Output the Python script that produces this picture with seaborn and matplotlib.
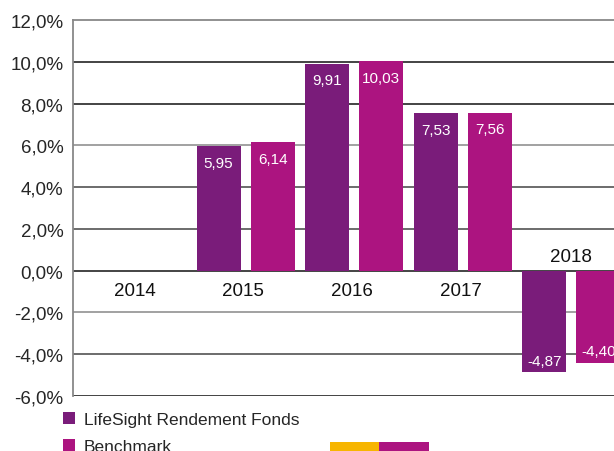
import pandas as pd
import seaborn as sns
import matplotlib.pyplot as plt
from matplotlib.patches import Rectangle

years = ['2014', '2015', '2016', '2017', '2018']
fund = [float('nan'), 5.95, 9.91, 7.53, -4.87]
bench = [float('nan'), 6.14, 10.03, 7.56, -4.40]
series_names = ['LifeSight Rendement Fonds', 'Benchmark']
y_ticks = [-6, -4, -2, 0, 2, 4, 6, 8, 10, 12]

purple = '#7a1c7a'
magenta = '#ac1480'

df = pd.DataFrame({
    'year': years * 2,
    'value': fund + bench,
    'series': [series_names[0]] * len(years) + [series_names[1]] * len(years),
})

sns.set_style('white')
plt.rcParams['font.family'] = ['Liberation Sans', 'DejaVu Sans']

fig = plt.figure(figsize=(6.14, 4.52), dpi=100)
ax = fig.add_axes([73 / 614, 55 / 452, (614 - 73) / 614, 376 / 452])

sns.barplot(data=df, x='year', y='value', hue='series', order=years,
            hue_order=series_names, palette=[purple, magenta],
            width=0.995, gap=0.186, saturation=1, linewidth=0, ax=ax, legend=True)

ax.set_xlim(-0.59, 4.394)
ax.set_ylim(-6, 12)
ax.set_yticks(y_ticks)
ax.set_yticklabels([f'{t:.1f}%'.replace('.', ',') for t in y_ticks], fontsize=13.5)
ax.tick_params(axis='y', length=0, pad=7)
ax.set_xticks([])
ax.set_xlabel('')
ax.set_ylabel('')

# horizontal grid lines
line_cols = {-6: '#111111', -4: '#444444', -2: '#888888', 0: '#111111', 2: '#444444',
             4: '#444444', 6: '#888888', 8: '#111111', 10: '#111111'}
for t, c in line_cols.items():
    ax.axhline(t, color=c, lw=1.1, zorder=0)

for side in ['right', 'bottom']:
    ax.spines[side].set_visible(False)
ax.spines['top'].set_color('#888888')
ax.spines['top'].set_linewidth(1.3)
ax.spines['left'].set_color('#888888')
ax.spines['left'].set_linewidth(1.3)

# value labels inside bars
for cont in ax.containers:
    for bar in cont:
        h = bar.get_height()
        if pd.isna(h):
            continue
        x = bar.get_x() + bar.get_width() / 2
        lab = f'{h:.2f}'.replace('.', ',')
        if h >= 0:
            ax.annotate(lab, (x, h), xytext=(0, -12), textcoords='offset points',
                        ha='center', va='center', color='white', fontsize=11)
        else:
            ax.annotate(lab, (x, h), xytext=(0, 8), textcoords='offset points',
                        ha='center', va='center', color='white', fontsize=11)

# year labels next to the zero line
for i, yr in enumerate(years):
    vals = [v for v in (fund[i], bench[i]) if not pd.isna(v)]
    if vals and min(vals) < 0:
        ax.annotate(yr, (i, 0), xytext=(0, 10), textcoords='offset points',
                    ha='center', va='center', fontsize=13.5, color='#111111')
    else:
        ax.annotate(yr, (i - 0.02, 0), xytext=(0, -14), textcoords='offset points',
                    ha='center', va='center', fontsize=13.5, color='#111111')

handles, labels = ax.get_legend_handles_labels()
ax.get_legend().remove()
fig.legend(handles, labels, loc='upper left', bbox_to_anchor=(56 / 614, 46 / 452),
           frameon=False, fontsize=12.5, handlelength=0.7, handleheight=0.7,
           handletextpad=0.5, labelspacing=0.7, borderaxespad=0)

# colour strip at the bottom
fig.add_artist(Rectangle((330 / 614, 0), 49 / 614, 9 / 452, transform=fig.transFigure,
                         color='#f7b500', lw=0))
fig.add_artist(Rectangle((379 / 614, 0), 50 / 614, 9 / 452, transform=fig.transFigure,
                         color=magenta, lw=0))

fig.savefig('out.png', dpi=100)
plt.close()
